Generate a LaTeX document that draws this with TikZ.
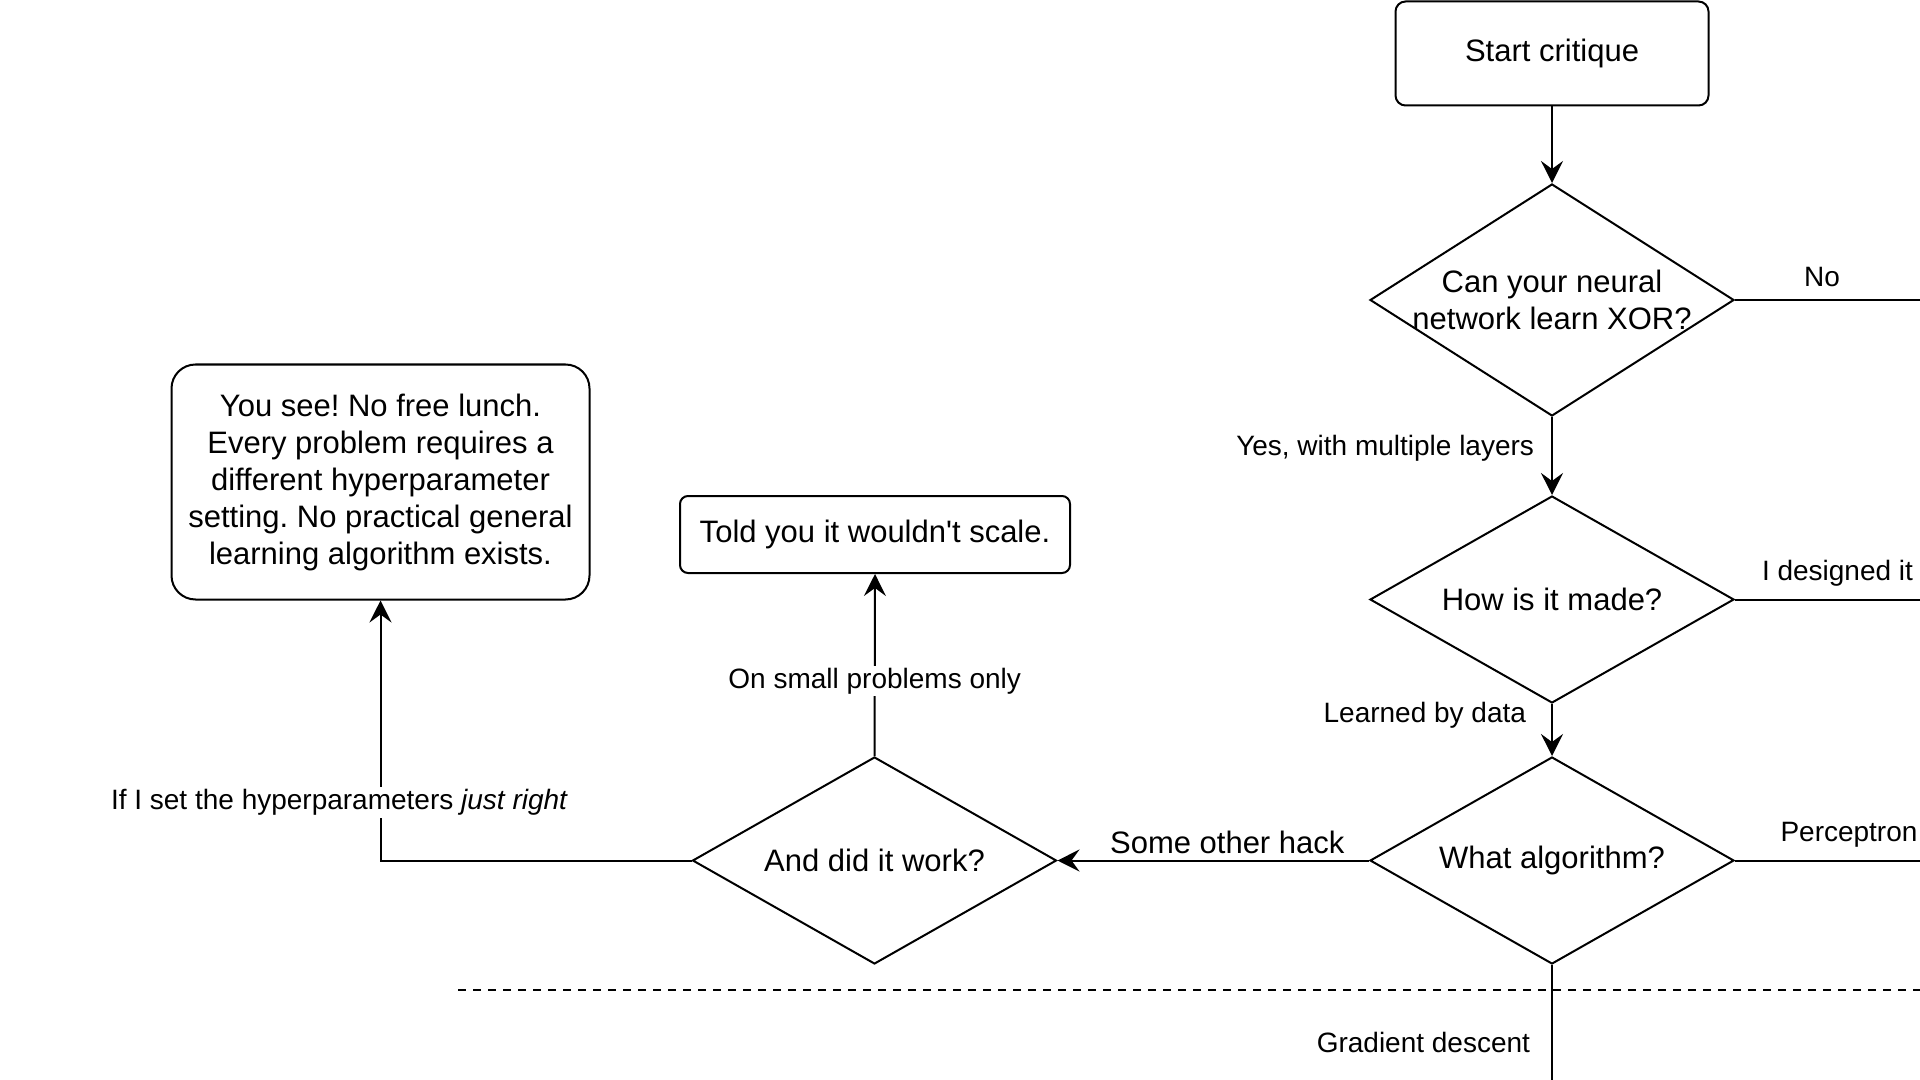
\documentclass[tikz,border=0pt]{standalone}
\usepackage{fontspec}
\setmainfont{Liberation Sans}
\frenchspacing
\usetikzlibrary{shapes.geometric,arrows.meta}
\tikzstyle{terminal} = [draw=black, line width=1pt, rounded corners=5pt, align=center, font={\fontsize{15.5}{18.5}\selectfont}]
\tikzstyle{decision} = [draw=black, line width=1pt, diamond, aspect=1.76, inner sep=-6pt, minimum width=182pt, minimum height=103.5pt, align=center, font={\fontsize{15.5}{18.5}\selectfont}]
\tikzstyle{lbl} = [font={\fontsize{14}{16.8}\selectfont}, inner sep=1pt]
\tikzstyle{bigLbl} = [lbl, font={\fontsize{15.5}{18.5}\selectfont}]
\tikzstyle{onLine} = [lbl, fill=white]

\begin{document}
\begin{tikzpicture}[x=0.5pt, y=-0.5pt, line width=1pt, >={Stealth[length=11pt,width=11pt,inset=4pt]}]
        \useasboundingbox (0,0) rectangle (1920,1080);
        \node[terminal, minimum width=156.5pt, minimum height=52pt](start) at (1552,53.5){Start critique};
        \node[decision, minimum height=116pt](xor) at (1552,300){Can your neural\\network learn XOR?};
        \node[decision](made) at (1552,599.5){How is it made?};
        \node[decision](algo) at (1552,860.5){What algorithm?};
        \node[decision](work) at (874.5,860.5){And did it work?};
        \node[terminal, rounded corners=4pt, minimum width=195pt, minimum height=38.5pt](scale) at (875,534.5){Told you it wouldn\textquotesingle t scale.};
        \node[terminal, rounded corners=12pt, minimum width=209pt, minimum height=117.5pt](lunch) at (380.5,482){You see! No free lunch.\\Every problem requires a\\different hyperparameter\\setting. No practical general\\learning algorithm exists.};
        \coordinate (noEnd) at (1920,300);
        \coordinate (designEnd) at (1920,599.5);
        \coordinate (perceptronEnd) at (1920,860.5);
        \coordinate (gradEnd) at (1552,1080);
        % separator
        \draw[dash pattern=on 4pt off 3.5pt](458,990)--(1920,990);
        \draw[->](start)--(xor);
        \draw[->](xor)--node[lbl,anchor=east,pos=0.4,xshift=-7.5pt]{Yes, with multiple layers}(made);
        \draw[->](made)--node[lbl,anchor=east,pos=0.22,xshift=-11.5pt]{Learned by data}(algo);
        \draw(xor.east)--node[lbl,pos=0.47,yshift=11.5pt]{No}(noEnd);
        \draw(made.east)--node[lbl,pos=0.554,yshift=13pt]{I designed it}(designEnd);
        \draw(algo.east)--node[lbl,pos=0.616,yshift=13pt]{Perceptron}(perceptronEnd);
        \draw(algo.south)--node[lbl,anchor=east,pos=0.67,xshift=-9.5pt]{Gradient descent}(gradEnd);
        \draw[->](algo.west)--node[bigLbl,pos=0.455,yshift=9pt]{Some other hack}(work.east);
        \draw[->](work.north)--node[onLine,pos=0.413]{On small problems only}(scale.south);
        \draw[->](work.west)-|node[onLine,pos=0.6115,xshift=-20.5pt]{If I set the hyperparameters \textit{just right}}(lunch.south);
      \end{tikzpicture}
\end{document}
